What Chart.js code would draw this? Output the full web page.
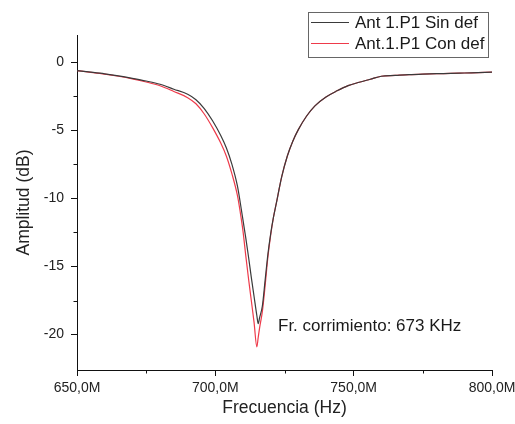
<!DOCTYPE html>
<html><head><meta charset="utf-8">
<script src="https://cdn.jsdelivr.net/npm/chart.js@4.4.1/dist/chart.umd.min.js"></script>
<style>html,body{margin:0;padding:0;background:#fff}#wrap{width:515px;height:424px}</style>
</head><body><div id="wrap"><canvas id="c" width="515" height="424"></canvas></div>
<script>
const freqMHz = [650,655,660,665,670,675,680,685,690,693,696,699,702,704,706,708,709,710,711,712,713,714,715,715.5,716,717,718,719,720,721,722,724,726,728,730,733,736,740,744,748,752,756,760,765,770,775,780,785,790,795,800];
const sinDef = [-0.62,-0.73,-0.85,-1.0,-1.18,-1.38,-1.62,-1.98,-2.35,-2.75,-3.4,-4.3,-5.4,-6.3,-7.5,-9.1,-10.3,-11.6,-12.9,-14.3,-15.8,-17.2,-18.6,-19.2,-18.75,-17.9,-16.0,-14.1,-12.6,-11.4,-10.4,-8.4,-6.9,-5.8,-4.95,-3.95,-3.2,-2.55,-2.1,-1.72,-1.47,-1.25,-1.03,-0.97,-0.91,-0.87,-0.84,-0.82,-0.79,-0.76,-0.73];
const conDef = [-0.62,-0.74,-0.87,-1.03,-1.22,-1.45,-1.73,-2.15,-2.6,-3.05,-3.8,-4.8,-5.95,-6.9,-8.2,-9.8,-11.0,-12.4,-14.2,-15.9,-17.5,-19.1,-20.9,-20.2,-19.5,-18.3,-16.4,-14.3,-12.7,-11.4,-10.4,-8.4,-6.9,-5.8,-4.95,-3.95,-3.2,-2.55,-2.1,-1.72,-1.47,-1.25,-1.03,-0.97,-0.91,-0.87,-0.84,-0.82,-0.79,-0.76,-0.73];
const seriesNames = ['Ant 1.P1 Sin def','Ant.1.P1 Con def'];
const xMajorTicks = [650,700,750,800];
const xMinorTicks = [675,725,775];
const yMajorTicks = [-20,-15,-10,-5,0];
const yMinorTicks = [-17.5,-12.5,-7.5,-2.5];
const annotationText = 'Fr. corrimiento: 673 KHz';
const xTitle = 'Frecuencia (Hz)';
const yTitle = 'Amplitud (dB)';

const FONT = 'Liberation Sans, Arial, sans-serif';
const colors = ['#3a3a3a','#ee3a4a'];

const extras = {
  id:'extras',
  afterDraw(chart){
    const ctx = chart.ctx, xs = chart.scales.x, ys = chart.scales.y;
    const ca = chart.chartArea;
    ctx.save();
    ctx.strokeStyle = '#111'; ctx.lineWidth = 1;
    xMinorTicks.forEach(v=>{
      const px = Math.round(xs.getPixelForValue(v))+0.5;
      ctx.beginPath(); ctx.moveTo(px, ca.bottom); ctx.lineTo(px, ca.bottom+3.5); ctx.stroke();
    });
    yMinorTicks.forEach(v=>{
      const py = Math.round(ys.getPixelForValue(v))+0.5;
      ctx.beginPath(); ctx.moveTo(ca.left, py); ctx.lineTo(ca.left-3.5, py); ctx.stroke();
    });
    // legend
    const lx = 308.5, ly = 12.5, lw = 180, lh = 45;
    ctx.fillStyle = '#fff'; ctx.fillRect(lx, ly, lw, lh);
    ctx.strokeStyle = '#666'; ctx.strokeRect(lx, ly, lw, lh);
    ctx.font = '17px ' + FONT; ctx.textBaseline = 'middle'; ctx.textAlign = 'left';
    chart.data.datasets.forEach((ds,i)=>{
      const yy = [22.5, 43.5][i];
      ctx.strokeStyle = ds.borderColor; ctx.lineWidth = 1;
      ctx.beginPath(); ctx.moveTo(311, yy); ctx.lineTo(349, yy); ctx.stroke();
      ctx.fillStyle = '#1a1a1a';
      ctx.fillText(ds.label, 355, yy + 1);
    });
    // annotation
    ctx.font = '17px ' + FONT; ctx.fillStyle = '#1a1a1a';
    ctx.fillText(annotationText, 278, 326);
    ctx.restore();
  }
};

new Chart(document.getElementById('c'), {
  type:'line',
  data:{
    datasets:[
      {label:seriesNames[0], data:freqMHz.map((f,i)=>({x:f,y:sinDef[i]})), borderColor:colors[0], borderWidth:1.2, pointRadius:0, cubicInterpolationMode:'monotone', fill:false},
      {label:seriesNames[1], data:freqMHz.map((f,i)=>({x:f,y:conDef[i]})), borderColor:colors[1], borderWidth:1.2, pointRadius:0, cubicInterpolationMode:'monotone', fill:false}
    ]
  },
  options:{
    responsive:false, animation:false,
    layout:{padding:{top:35,right:23,left:0,bottom:0}},
    plugins:{legend:{display:false}, tooltip:{enabled:false}},
    scales:{
      x:{type:'linear', min:650, max:800,
        afterBuildTicks(s){ s.ticks = xMajorTicks.map(v=>({value:v})); },
        afterFit(s){ s.height = 54; s.paddingLeft = 0; s.paddingRight = 0; },
        grid:{display:true, drawOnChartArea:false, drawTicks:true, tickLength:6, color:'#111'},
        border:{display:true, color:'#111', width:1},
        ticks:{color:'#222', font:{family:FONT, size:14}, padding:4, maxRotation:0, autoSkip:false,
          callback:v=>v.toFixed(1).replace('.',',')+'M'},
        title:{display:true, text:xTitle, color:'#222', font:{family:FONT, size:17.5}, padding:{top:0,bottom:5}}
      },
      y:{type:'linear', min:-22.6, max:2,
        afterBuildTicks(s){ s.ticks = yMajorTicks.map(v=>({value:v})); },
        afterFit(s){ s.width = 77; s.paddingTop = 0; s.paddingBottom = 0; },
        grid:{display:true, drawOnChartArea:false, drawTicks:true, tickLength:6, color:'#111'},
        border:{display:true, color:'#111', width:1},
        ticks:{color:'#222', font:{family:FONT, size:14}, padding:7, autoSkip:false},
        title:{display:true, text:yTitle, color:'#222', font:{family:FONT, size:17.5}, padding:{top:14,bottom:0}}
      }
    }
  },
  plugins:[extras]
});
</script></body></html>
